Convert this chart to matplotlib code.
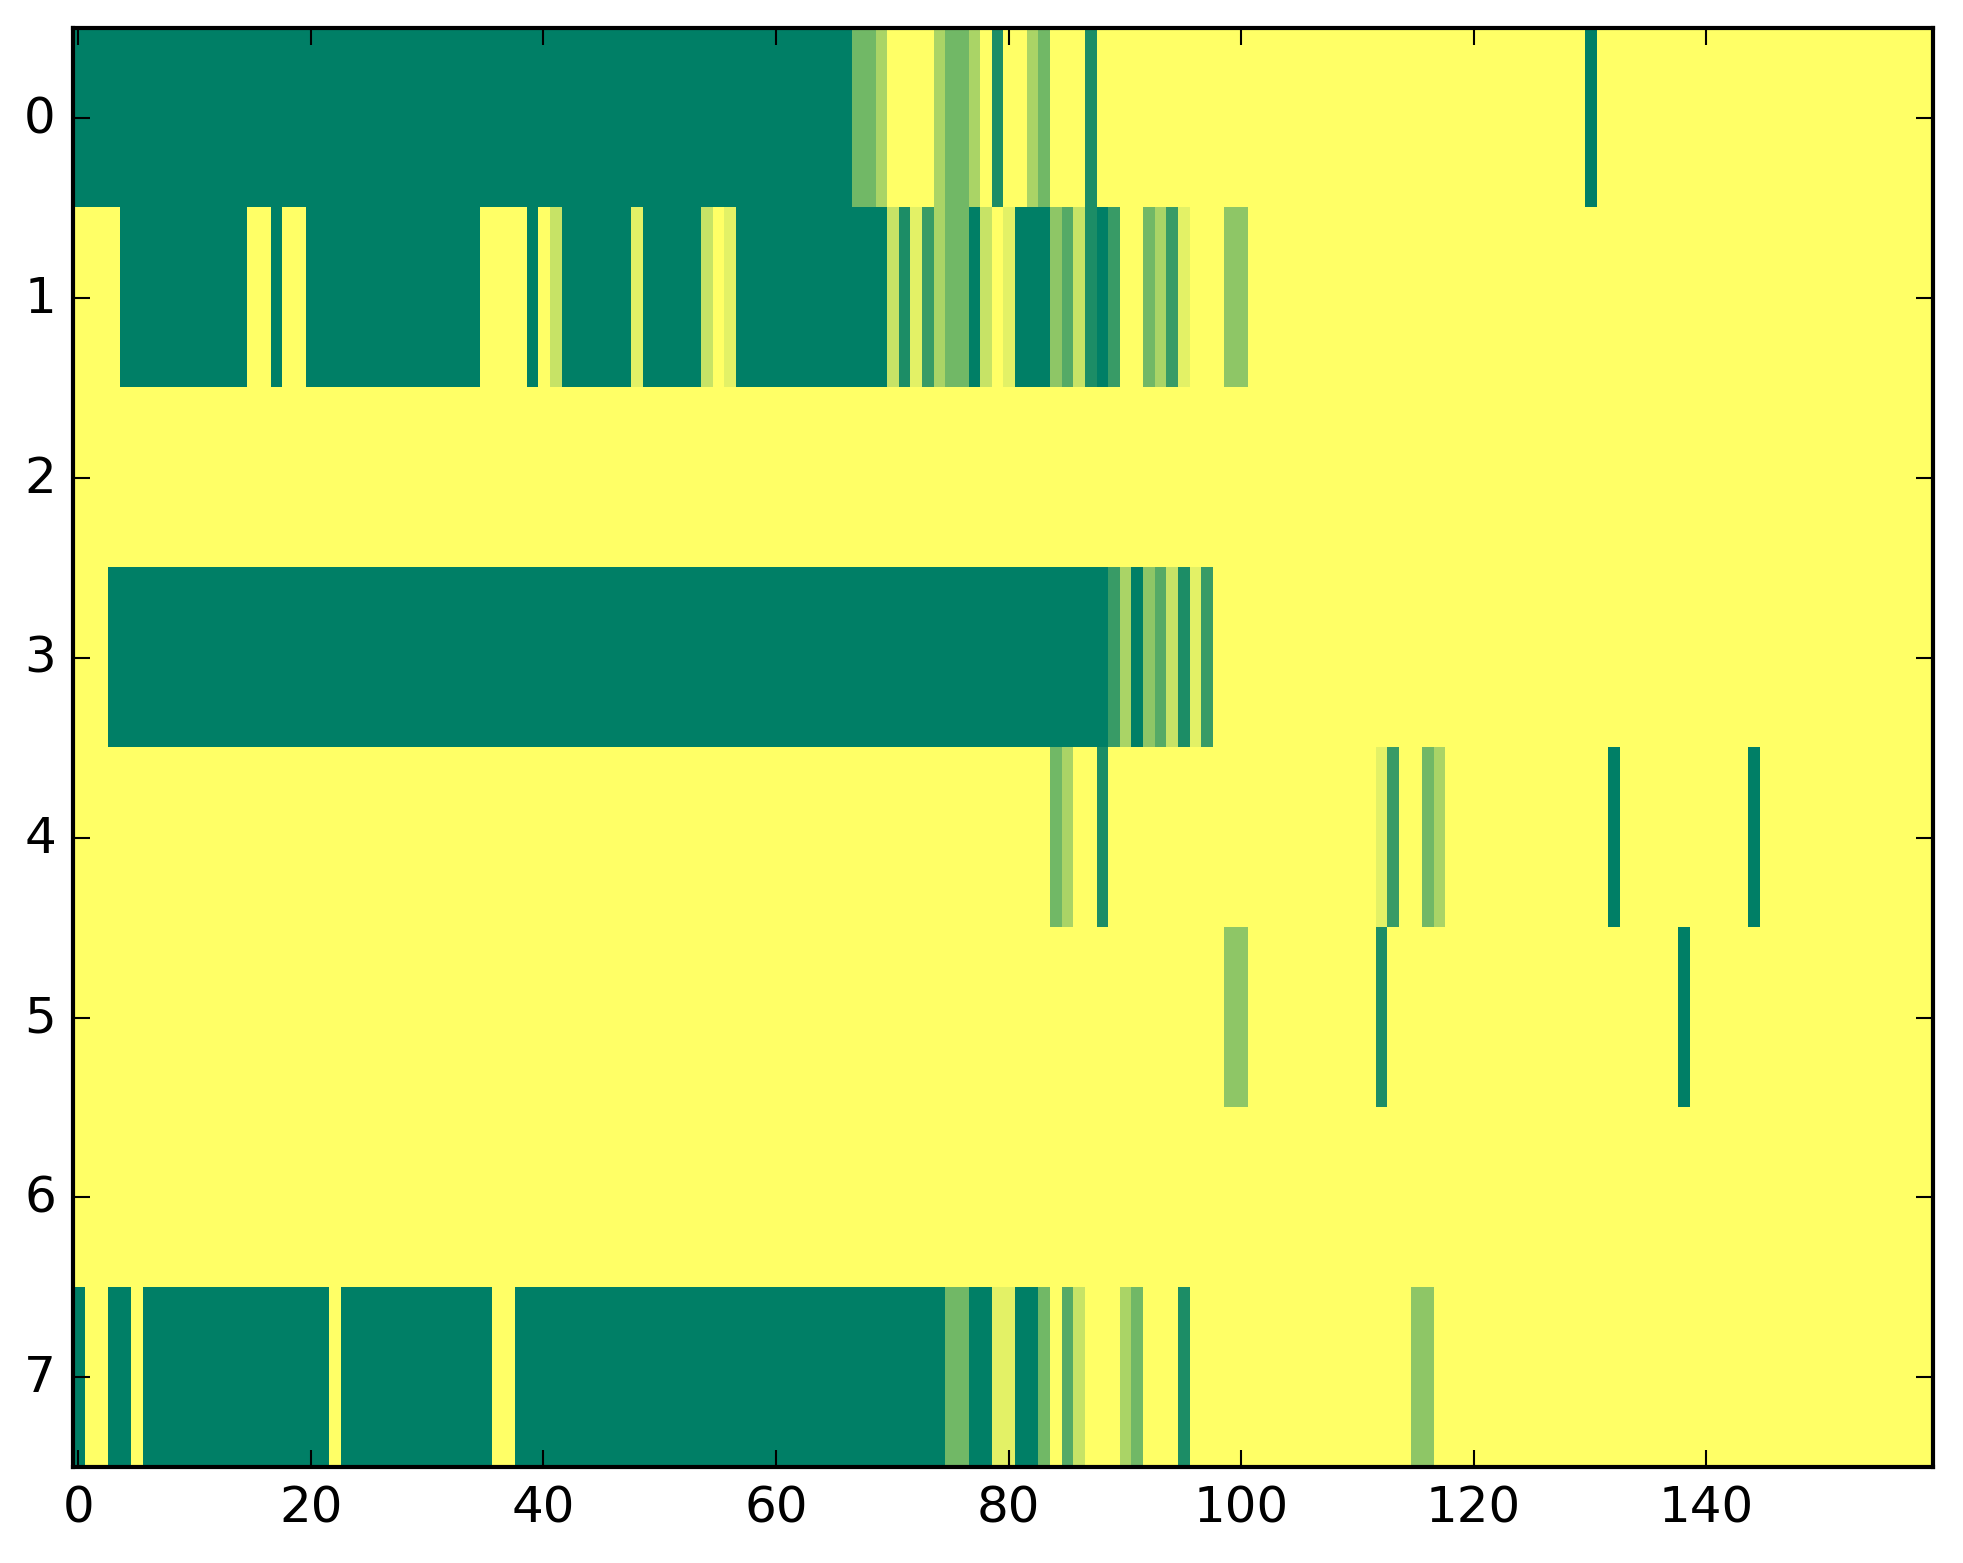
import numpy as np
import matplotlib
matplotlib.use('Agg')
import matplotlib.pyplot as plt

# each row is a list of (level, run length), 160 columns per row
row0 = [(9, 67), (5, 2), (3, 1), (0, 4), (3, 1), (5, 2), (3, 1), (0, 1), (8, 1), (0, 2),
        (3, 1), (5, 1), (0, 3), (8, 1), (0, 42), (9, 1), (0, 29)]
row1 = [(0, 4), (9, 11), (0, 2), (9, 1), (0, 2), (9, 15), (0, 4), (9, 1), (0, 1), (2, 1),
        (9, 6), (1, 1), (9, 5), (2, 1), (0, 1), (1, 1), (9, 13), (2, 1), (8, 1), (1, 1),
        (7, 1), (3, 1), (5, 2), (9, 1), (2, 1), (0, 1), (1, 1), (9, 3), (4, 1), (6, 1),
        (2, 1), (8, 1), (9, 1), (7, 1), (0, 2), (5, 1), (3, 1), (7, 1), (1, 1), (0, 3),
        (4, 2), (0, 59)]
row2 = [(0, 160)]
row3 = [(0, 3), (9, 86), (7, 1), (3, 1), (9, 1), (4, 1), (6, 1), (2, 1), (8, 1), (1, 1),
        (7, 1), (0, 62)]
row4 = [(0, 84), (5, 1), (3, 1), (0, 2), (8, 1), (0, 23), (1, 1), (7, 1), (0, 2), (5, 1),
        (3, 1), (0, 14), (9, 1), (0, 11), (9, 1), (0, 15)]
row5 = [(0, 99), (4, 2), (0, 11), (8, 1), (0, 25), (9, 1), (0, 21)]
row6 = [(0, 160)]
row7 = [(9, 1), (0, 2), (9, 2), (0, 1), (9, 16), (0, 1), (9, 13), (0, 2), (9, 37), (5, 2),
        (9, 2), (1, 2), (9, 2), (5, 1), (0, 1), (6, 1), (2, 1), (0, 3), (3, 1), (5, 1),
        (0, 3), (8, 1), (0, 19), (4, 2), (0, 43)]

rows = [row0, row1, row2, row3, row4, row5, row6, row7]
x_ticks = [0, 20, 40, 60, 80, 100, 120, 140]
y_ticks = [0, 1, 2, 3, 4, 5, 6, 7]


def expand(runs):
    vals = [v for v, _ in runs]
    counts = [n for _, n in runs]
    return np.repeat(vals, counts)


grid = np.array([expand(r) for r in rows], dtype=float)

plt.style.use('classic')
fig = plt.figure(figsize=(1963 / 300, 1564 / 300), dpi=300)
ax = fig.add_axes([0.037, 0.0612, 0.9476, 0.9201])
ax.imshow(grid, cmap='summer_r', vmin=0, vmax=9, aspect='auto', interpolation='nearest')
ax.set_xticks(x_ticks)
ax.set_yticks(y_ticks)
ax.set_xlim(-0.5, grid.shape[1] - 0.5)
ax.set_ylim(grid.shape[0] - 0.5, -0.5)

fig.savefig('out.png', dpi=300, facecolor='white')
